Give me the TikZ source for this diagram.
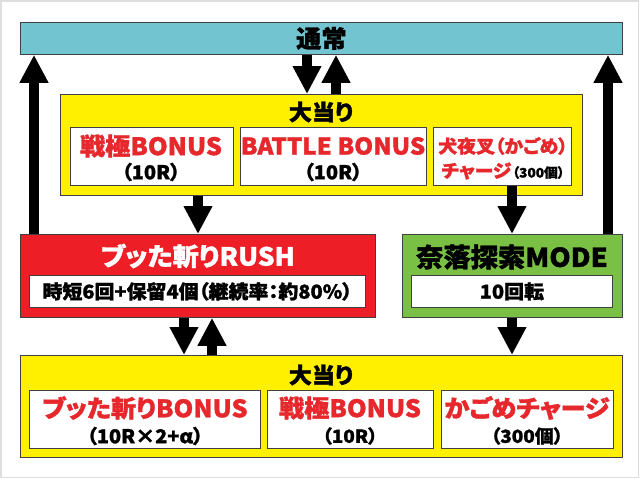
\documentclass[tikz,border=0pt]{standalone}
\usepackage{fontspec}
\usepackage{xcolor}
\usetikzlibrary{arrows.meta,positioning}
\newfontfamily\jpfont{Noto Sans CJK JP}[FakeStretch=1.05, RawFeature=+palt, BoldFeatures={FakeBold=1.4}]
\newcommand\jpsize[1]{\fontsize{#1}{#1}\selectfont}
\definecolor{tsujocyan}{RGB}{114,196,208}
\definecolor{atariyellow}{RGB}{255,240,0}
\definecolor{rushred}{RGB}{238,30,38}
\definecolor{narakugreen}{RGB}{122,192,68}
\definecolor{bonusred}{RGB}{230,40,45}
\definecolor{framegray}{RGB}{222,222,222}
\tikzset{
	panel/.style={
			draw=black!75, line width=0.8pt, anchor=north west, inner sep=0pt
		},
	subbox/.style={panel, fill=white},
	lbl/.style={inner sep=0pt, font=\jpfont\bfseries},
	redlbl/.style={lbl, text=bonusred},
	bigarrow/.style={line width=10pt, -{Triangle[length=28pt,width=27pt]}}
}

\begin{document}
\begin{tikzpicture}[x=1pt,y=-1pt]
		\useasboundingbox (0,0) rectangle (640,479);
		\draw[framegray, line width=1.5pt] (1,1) rectangle (638.5,477.5);
		% normal mode
		\node[panel, fill=tsujocyan, minimum width=602pt, minimum height=32pt,
			font=\jpfont\bfseries\jpsize{24}] (tsujo) at (20,22) {通常};
		% first jackpot
		\node[panel, fill=atariyellow, minimum width=522pt, minimum height=101pt] (atariA) at (60,94) {};
		\node[lbl, font=\jpfont\bfseries\jpsize{22}] (atariAT) at (321,112) {大当り};
		\node[subbox, minimum width=163pt, minimum height=58pt] (sengokuA) at (70,127) {};
		\node[subbox, minimum width=186pt, minimum height=58pt] (battleA) at (240,127) {};
		\node[subbox, minimum width=138pt, minimum height=58pt] (kagomeA) at (433,127) {};
		\node[redlbl, font=\jpfont\bfseries\jpsize{24}] (sengokuAT) at (151,146) {戦極BONUS};
		\node[lbl, font=\jpfont\bfseries\jpsize{19}] (sengokuAR) at (151,172) {（10R）};
		\node[redlbl, font=\jpfont\bfseries\jpsize{23}] (battleAT) at (333,146) {BATTLE BONUS};
		\node[lbl, font=\jpfont\bfseries\jpsize{19}] (battleAR) at (333,172) {（10R）};
		\node[redlbl, font=\jpfont\bfseries\jpsize{18}] (kagomeAT) at (503,146) {犬夜叉（かごめ）};
		\node[redlbl, font=\jpfont\bfseries\jpsize{18}] (kagomeAR) at (503,171)
			{チャージ\hspace{1pt}{\color{black}\jpsize{13}（300個）}};
		% rush
		\node[panel, fill=rushred, minimum width=355pt, minimum height=83pt] (rush) at (20,234) {};
		\node[lbl, text=white, font=\jpfont\bfseries\jpsize{25}] (rushT) at (198,256) {ブッた斬りRUSH};
		\node[subbox, minimum width=336pt, minimum height=32pt,
			font=\jpfont\bfseries\jpsize{19}] (rushI) at (29,275) {時短6回+保留4個（継続率：約80\%）};
		% naraku mode
		\node[panel, fill=narakugreen, minimum width=220pt, minimum height=83pt] (naraku) at (402,234) {};
		\node[lbl, font=\jpfont\bfseries\jpsize{26}] (narakuT) at (512,257) {奈落探索MODE};
		\node[subbox, minimum width=201pt, minimum height=32pt,
			font=\jpfont\bfseries\jpsize{19}] (narakuI) at (411,275) {10回転};
		% second jackpot
		\node[panel, fill=atariyellow, minimum width=602pt, minimum height=102pt] (atariB) at (20,355) {};
		\node[lbl, font=\jpfont\bfseries\jpsize{22}] (atariBT) at (321,375) {大当り};
		\node[subbox, minimum width=231pt, minimum height=58pt] (buttaB) at (29,390) {};
		\node[subbox, minimum width=166pt, minimum height=58pt] (sengokuB) at (267,390) {};
		\node[subbox, minimum width=172pt, minimum height=58pt] (kagomeB) at (441,390) {};
		\node[redlbl, font=\jpfont\bfseries\jpsize{24}] (buttaBT) at (145,408) {ブッた斬りBONUS};
		\node[lbl, font=\jpfont\bfseries\jpsize{19}] (buttaBR) at (145,436) {（10R×2+α）};
		\node[redlbl, font=\jpfont\bfseries\jpsize{24}] (sengokuBT) at (350,408) {戦極BONUS};
		\node[lbl, font=\jpfont\bfseries\jpsize{18}] (sengokuBR) at (350,436) {（10R）};
		\node[redlbl, font=\jpfont\bfseries\jpsize{24}] (kagomeBT) at (527,408) {かごめチャージ};
		\node[lbl, font=\jpfont\bfseries\jpsize{18}] (kagomeBR) at (527,436) {（300個）};
		% arrow columns
		\coordinate (xL) at (34,0);
		\coordinate (xR) at (608,0);
		\coordinate (xDown) at (307,0);
		\coordinate (xUp) at (336,0);
		\coordinate (xRush) at (198,0);
		\coordinate (xNaraku) at (512,0);
		\coordinate (xRushDown) at (184,0);
		\coordinate (xRushUp) at (212,0);
		\draw[bigarrow] (rush.north -| xL) -- (tsujo.south -| xL);
		\draw[bigarrow] (naraku.north -| xR) -- (tsujo.south -| xR);
		\draw[bigarrow] (tsujo.south -| xDown) -- (atariA.north -| xDown);
		\draw[bigarrow] (atariA.north -| xUp) -- (tsujo.south -| xUp);
		\draw[bigarrow] (atariA.south -| xRush) -- (rush.north -| xRush);
		\draw[bigarrow] (kagomeA.south -| xNaraku) -- (naraku.north -| xNaraku);
		\draw[bigarrow] (rush.south -| xRushDown) -- (atariB.north -| xRushDown);
		\draw[bigarrow] (atariB.north -| xRushUp) -- (rush.south -| xRushUp);
		\draw[bigarrow] (naraku.south -| xNaraku) -- (atariB.north -| xNaraku);
	\end{tikzpicture}
\end{document}
